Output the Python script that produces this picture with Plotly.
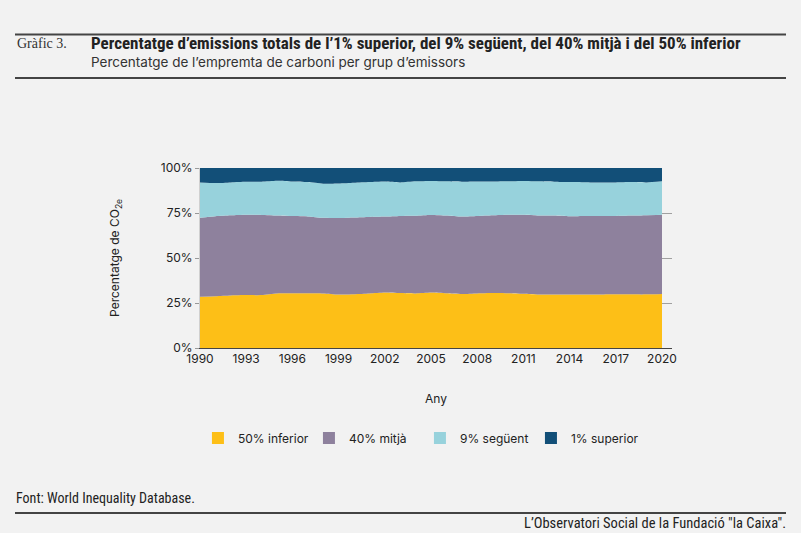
import plotly.graph_objects as go

years = list(range(1990, 2021))
bottom50 = [28.5, 28.8, 29.2, 29.4, 29.4, 30.3, 30.4, 30.4, 30.3, 29.7, 29.9, 30.3, 30.8, 30.5, 30.3, 30.8,
            30.4, 30.0, 30.3, 30.5, 30.4, 30.1, 29.7, 29.7, 29.7, 29.7, 29.7, 29.8, 29.8, 29.8, 30.0]
middle40 = [43.9, 44.4, 44.5, 44.6, 44.5, 43.3, 42.9, 42.7, 42.0, 42.5, 42.6, 42.5, 42.2, 42.9, 43.2, 43.1,
            43.2, 43.0, 43.0, 43.2, 43.6, 43.9, 43.9, 43.9, 43.5, 43.7, 43.6, 43.6, 43.8, 44.0, 44.0]
next9 = [19.6, 18.4, 18.3, 18.3, 18.5, 19.3, 19.2, 19.1, 19.0, 19.2, 19.3, 19.4, 19.5, 18.6, 19.1, 18.9,
         19.0, 19.4, 19.2, 18.8, 18.6, 18.8, 19.0, 18.8, 19.0, 18.7, 18.6, 18.6, 18.6, 18.2, 18.6]
top1 = [8.0, 8.4, 8.0, 7.7, 7.6, 7.1, 7.5, 7.8, 8.7, 8.6, 8.2, 7.8, 7.5, 8.0, 7.4, 7.2,
        7.4, 7.6, 7.5, 7.5, 7.4, 7.2, 7.4, 7.6, 7.8, 7.9, 8.1, 8.0, 7.8, 8.0, 7.4]

series_names = ["50% inferior", "40% mitjà", "9% següent", "1% superior"]
series_values = [bottom50, middle40, next9, top1]
colors = ["#FDBF17", "#8E819D", "#97D2DC", "#124F78"]
tick_years = list(range(1990, 2021, 3))
y_ticks = [0, 25, 50, 75, 100]
y_labels = ["0%", "25%", "50%", "75%", "100%"]

FONT = "Inter, Roboto, 'Liberation Sans', sans-serif"
NARROW = "'Liberation Sans Narrow', 'Roboto Condensed', Roboto, sans-serif"
fig = go.Figure()
for name, vals, col in zip(series_names, series_values, colors):
    fig.add_trace(go.Scatter(x=years, y=vals, name=name, stackgroup="one", mode="lines",
                             line=dict(width=0, color=col, shape="spline", smoothing=0.6),
                             fillcolor=col, showlegend=False, hoverinfo="x+y+name"))
for name, col in zip(series_names, colors):
    fig.add_trace(go.Scatter(x=[None], y=[None], name=name, mode="markers",
                             marker=dict(symbol="square", size=13, color=col), showlegend=True))

fig.update_layout(
    width=801, height=533,
    paper_bgcolor="#F2F2F2", plot_bgcolor="#F2F2F2",
    margin=dict(l=200, r=129, t=168, b=185),
    font=dict(family=FONT, size=12, color="#222"),
    xaxis=dict(range=[1990, 2020.65], tickvals=tick_years, showgrid=False, zeroline=False,
               showline=True, linecolor="#444", linewidth=1, ticks="",
               title=dict(text="Any", font=dict(size=12), standoff=29),
               tickfont=dict(size=12, color="#222")),
    yaxis=dict(range=[0, 100], tickvals=y_ticks, ticktext=y_labels, showgrid=True,
               gridcolor="#A0A0A0", gridwidth=1, zeroline=False, showline=True,
               linecolor="#D0D0D0", ticks="outside", ticklen=4, tickcolor="#999",
               title=dict(text="Percentatge de CO<sub>2e</sub>", font=dict(size=12), standoff=38),
               tickfont=dict(size=12, color="#222")),
    legend=dict(orientation="h", x=0.466, xanchor="center", y=-0.5, yanchor="middle",
                traceorder="normal",
                font=dict(size=12, color="#222"), entrywidth=66, entrywidthmode="pixels",
                itemsizing="constant", bgcolor="rgba(0,0,0,0)"),
)

def px_x(p):
    return (p - 200) / 472

def px_y(p):
    return (348 - p) / 180

# header / footer rules
for yy in [34.5, 78, 513]:
    fig.add_shape(type="line", xref="paper", yref="paper", layer="above",
                  x0=px_x(15), x1=px_x(786), y0=px_y(yy), y1=px_y(yy),
                  line=dict(color="#444", width=2))

fig.add_annotation(text="Gràfic 3.", xref="paper", yref="paper", x=px_x(15), y=px_y(43),
                   xanchor="left", yanchor="middle", showarrow=False,
                   font=dict(family="'Liberation Serif', 'DejaVu Serif', serif", size=14, color="#333"))
fig.add_annotation(text="<b>Percentatge d’emissions totals de l’1% superior, del 9% següent, del 40% mitjà i del 50% inferior</b>",
                   xref="paper", yref="paper", x=px_x(89), y=px_y(43),
                   xanchor="left", yanchor="middle", showarrow=False,
                   font=dict(family=NARROW, size=17, color="#222"))
fig.add_annotation(text="Percentatge de l’empremta de carboni per grup d’emissors",
                   xref="paper", yref="paper", x=px_x(89), y=px_y(62),
                   xanchor="left", yanchor="middle", showarrow=False,
                   font=dict(family=FONT, size=13.5, color="#333"))
fig.add_annotation(text="Font: World Inequality Database.",
                   xref="paper", yref="paper", x=px_x(14), y=px_y(498),
                   xanchor="left", yanchor="middle", showarrow=False,
                   font=dict(family=NARROW, size=14, color="#222"))
fig.add_annotation(text="L’Observatori Social de la Fundació \"la Caixa\".",
                   xref="paper", yref="paper", x=px_x(788), y=px_y(523),
                   xanchor="right", yanchor="middle", showarrow=False,
                   font=dict(family=NARROW, size=14.5, color="#222"))

fig.write_html("out.html", config={"displayModeBar": False})

with open("out.html", "r", encoding="utf-8") as f:
    html = f.read()
html = html.replace("<head>", "<head><style>html,body{margin:0;padding:0;background:#F2F2F2;}</style>", 1)
with open("out.html", "w", encoding="utf-8") as f:
    f.write(html)
